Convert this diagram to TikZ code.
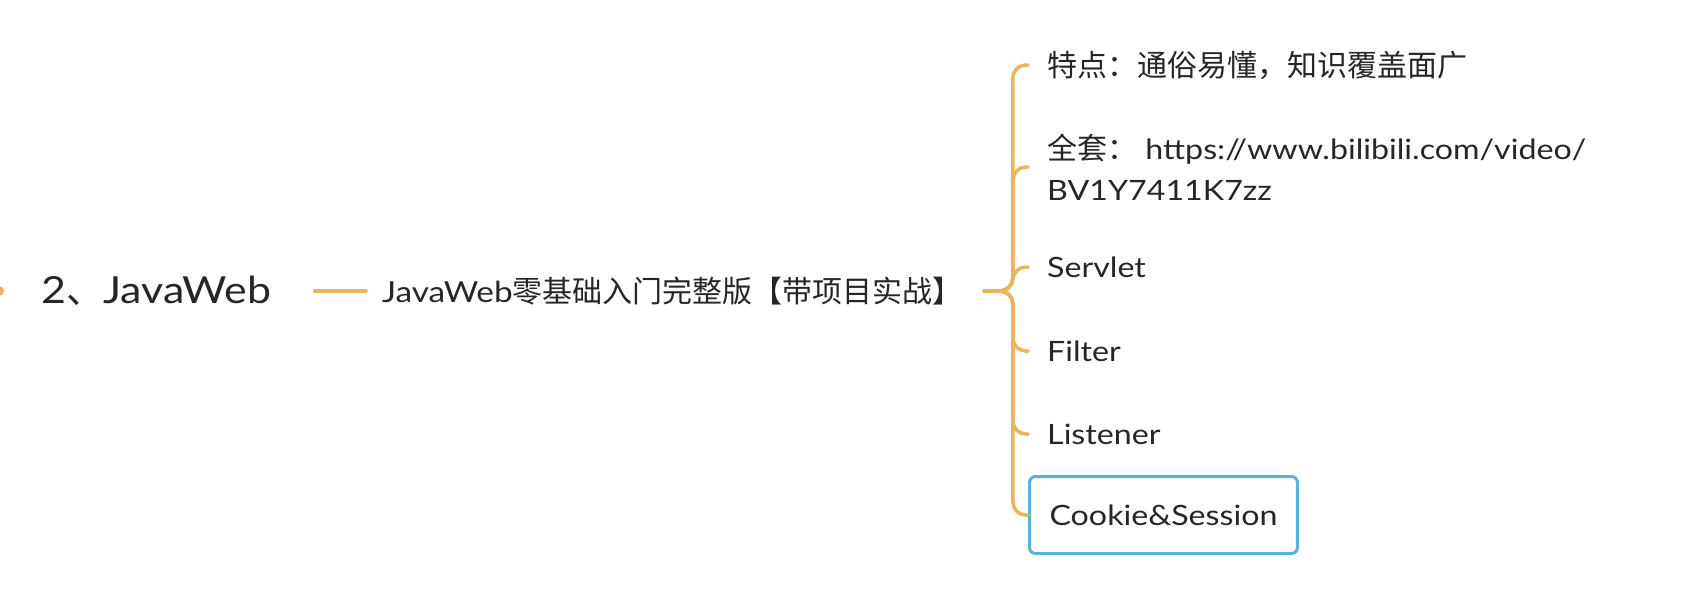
\documentclass[tikz,border=0pt]{standalone}
\usepackage{fontspec}
\setmainfont{Lato}[FakeStretch=1.15]
\newfontfamily\cjk{Noto Sans CJK SC}
\definecolor{br}{HTML}{EBB55A}
\definecolor{sel}{HTML}{5AB1DB}
\definecolor{tx}{HTML}{262626}
\tikzset{
 branch/.style={draw=br, line width=3.5pt, line cap=round},
 lvl0/.style={anchor=west, inner sep=0pt, text=tx, font=\fontsize{37.3}{48}\selectfont},
 lvl1/.style={anchor=west, inner sep=0pt, text=tx, font=\fontsize{29}{34}\selectfont},
 child/.style={anchor=west, inner xsep=19pt, inner ysep=0pt, text=tx, font=\fontsize{28}{41}\selectfont, align=left},
 selbox/.style={draw=sel, line width=3pt, rounded corners=6pt, minimum height=77pt},
}
\begin{document}
\begin{tikzpicture}[x=1pt,y=-1pt]
\useasboundingbox (0,0) rectangle (1688,590);
\fill[br] (-1,291) circle (5);
\node[lvl0] (main) at (41,291) {2{\cjk 、}JavaWeb};
\node[lvl1] (mid) at (382,291) {JavaWeb{\cjk\fontsize{30}{34}\selectfont 零基础入门完整版【带项目实战】}};
\node[child] (c1) at (1028,65) {{\cjk\fontsize{30}{41}\selectfont 特点：通俗易懂，知识覆盖面广}};
\node[child] (c2) at (1028,167) {{\cjk\fontsize{30}{41}\selectfont 全套：} https://www.bilibili.com/video/\\BV1Y7411K7zz};
\node[child] (c3) at (1028,267) {Servlet};
\node[child] (c4) at (1028,351) {Filter};
\node[child] (c5) at (1028,434) {Listener};
\node[child, selbox, inner xsep=20pt] (c6) at (1028,515) {Cookie\&Session};
\draw[branch, shorten <=43pt, shorten >=16pt] (main.east) -- (mid.west);
\foreach \c in {c1,c2,c3,c4,c5,c6}
  \draw[branch, rounded corners=13pt, shorten <=21pt] (mid.east) -- ++(50,0) |- (\c.west);
\end{tikzpicture}
\end{document}
